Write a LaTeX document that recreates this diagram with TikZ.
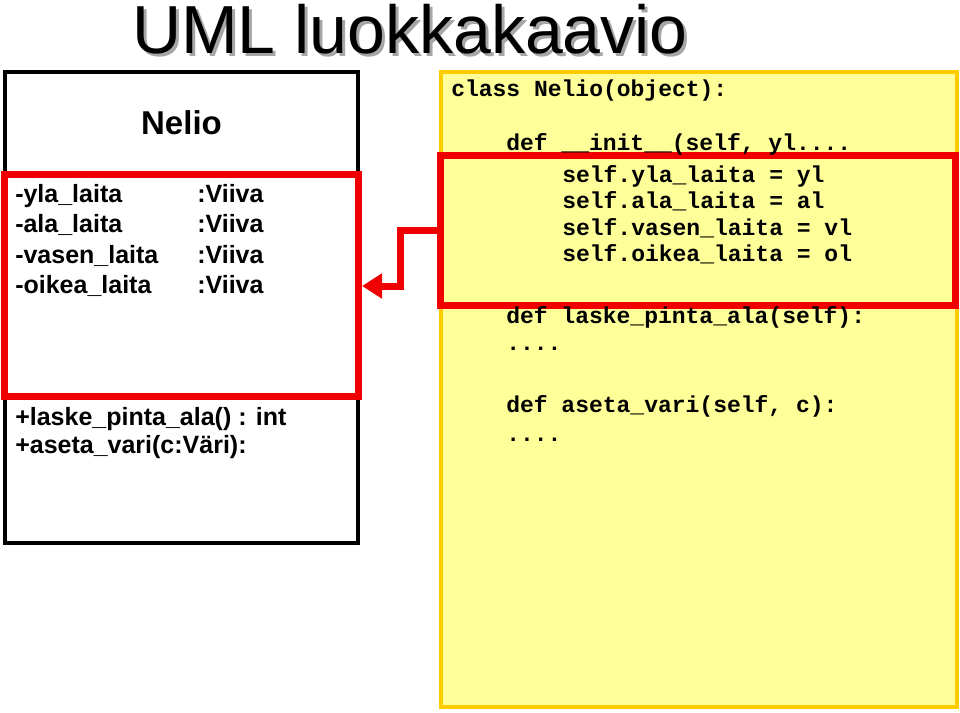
\documentclass[tikz,border=0pt]{standalone}
\usepackage{fontspec}
\setmainfont{Liberation Sans}
\newfontfamily\koodifont{Liberation Mono}
\usepackage{tikz}
\usetikzlibrary{arrows.meta,positioning}
\usepackage{xcolor}
\definecolor{keltainen}{HTML}{FFFF99}
\definecolor{kulta}{HTML}{FFCC00}
\definecolor{punainen}{HTML}{F00000}

\begin{document}
\begin{tikzpicture}[
      x=0.75pt, y=-0.75pt,
      luokka/.style={draw=black, line width=3pt, inner sep=0pt, minimum width=264.75pt, minimum height=353.25pt},
      koodi/.style={draw=kulta, fill=keltainen, line width=3pt, inner sep=0pt, minimum width=387pt, minimum height=476.25pt},
      korostus/.style={draw=punainen, line width=5.25pt, inner sep=0pt},
      rivi/.style={anchor=base west, inner sep=0pt, font=\bfseries\fontsize{18.75pt}{22pt}\selectfont},
      koodirivi/.style={anchor=base west, inner sep=0pt, font=\koodifont\bfseries\fontsize{17.25pt}{20pt}\selectfont},
      otsikko/.style={inner sep=0pt, font=\fontsize{51pt}{57pt}\selectfont}
    ]
    \useasboundingbox (0,0) rectangle (960,713);
    % Title with its shadow
    \node[otsikko, text=black!35] (varjo) at (413,32) {UML luokkakaavio};
    \node[otsikko] (otsikko) at (410,29) {UML luokkakaavio};
    % UML class box
    \node[luokka] (nelio) at (181.5,307.5) {};
    \node[inner sep=0pt, anchor=base, font=\bfseries\fontsize{24.75pt}{28pt}\selectfont] (nimi) at (181.5,135) {Nelio};
    \node[rivi] (a1) at (15,203) {-yla\_laita};
    \node[rivi] (a2) at (15,233) {-ala\_laita};
    \node[rivi] (a3) at (15,263) {-vasen\_laita};
    \node[rivi] (a4) at (15,293) {-oikea\_laita};
    \node[rivi] (t1) at (197,203) {:Viiva};
    \node[rivi] (t2) at (197,233) {:Viiva};
    \node[rivi] (t3) at (197,263) {:Viiva};
    \node[rivi] (t4) at (197,293) {:Viiva};
    \node[rivi] (m1) at (15,425) {+laske\_pinta\_ala() : int};
    \node[rivi] (m2) at (15,453) {+aseta\_vari(c:Väri):};
    % Python code box, the highlight goes under the text
    \node[koodi] (python) at (699,389.5) {};
    \node[korostus, minimum width=385.9pt, minimum height=112.5pt] (init) at (697.75,230.5) {};
    \node[koodirivi] (k1) at (451,97) {class Nelio(object):};
    \node[koodirivi] (k2) at (506,151) {def \_\_init\_\_(self, yl....};
    \node[koodirivi] (k3) at (562,183) {self.yla\_laita = yl};
    \node[koodirivi] (k4) at (562,209) {self.ala\_laita = al};
    \node[koodirivi] (k5) at (562,235) {self.vasen\_laita = vl};
    \node[koodirivi] (k6) at (562,261) {self.oikea\_laita = ol};
    \node[koodirivi] (k7) at (506,323) {def laske\_pinta\_ala(self):};
    \node[koodirivi] (k8) at (506,350) {....};
    \node[koodirivi] (k9) at (506,412) {def aseta\_vari(self, c):};
    \node[koodirivi] (k10) at (506,441) {....};
    % Red highlight of the attributes and the link
    \node[korostus, minimum width=265.5pt, minimum height=165.75pt] (attr) at (181.5,285.5) {};
    \coordinate (mutka) at (400,286);
    \draw[punainen, line width=5.25pt, -{Triangle[length=15pt,width=18pt]}]
      (init.west) -| (mutka) -- (mutka -| attr.east);
  \end{tikzpicture}
\end{document}
